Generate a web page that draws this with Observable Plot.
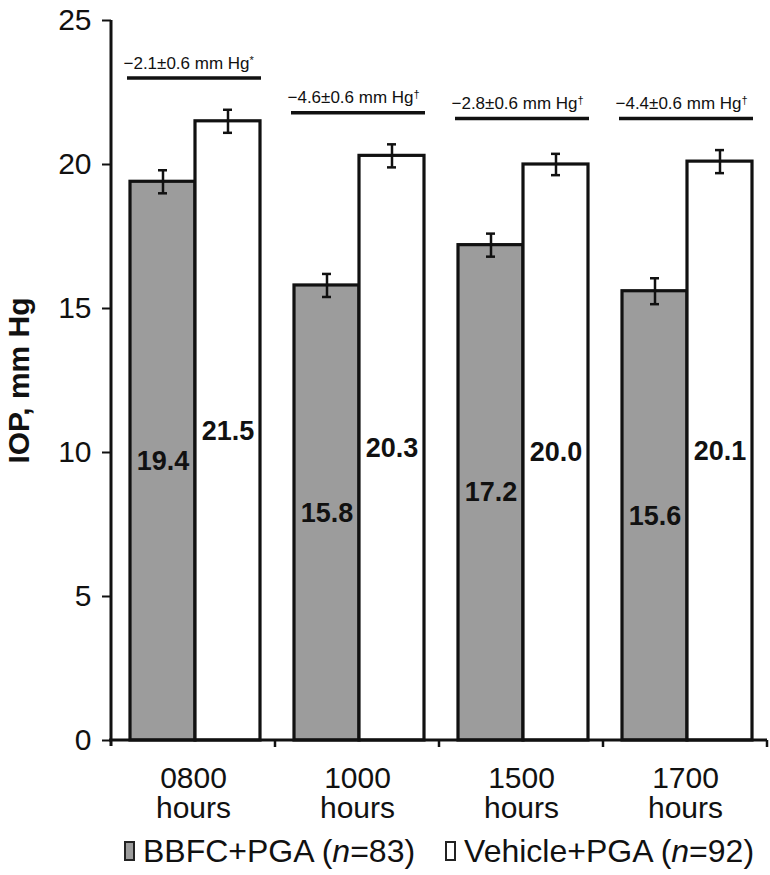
<!DOCTYPE html>
<html>
<head>
<meta charset="utf-8">
<script src="https://cdn.jsdelivr.net/npm/d3@7"></script>
<script src="https://cdn.jsdelivr.net/npm/@observablehq/plot@0.6"></script>
<style>
  body { margin: 0; background: #fff; font-family: "Liberation Sans", Arial, Helvetica, sans-serif; }
  #legend { display: flex; justify-content: center; align-items: center; gap: 30px;
            padding-left: 111px; padding-right: 3px; width: 656px; height: 42px;
            font-size: 32px; color: #111; }
  #legend .item { display: flex; align-items: center; white-space: nowrap; }
  #legend .sw { display: inline-block; width: 7px; height: 16px; border: 2px solid #222; margin-right: 8px; }
</style>
</head>
<body>
<div id="chart"></div>
<div id="legend"></div>
<script>
// ---- data ----
const times = ["0800\nhours", "1000\nhours", "1500\nhours", "1700\nhours"];
const groups = ["BBFC+PGA", "Vehicle+PGA"];
const groupN = [83, 92];
const groupColors = ["#9c9c9c", "#ffffff"];
const bbfcMean = [19.4, 15.8, 17.2, 15.6];
const bbfcSE = [0.4, 0.4, 0.4, 0.45];
const vehicleMean = [21.5, 20.3, 20.0, 20.1];
const vehicleSE = [0.4, 0.4, 0.37, 0.4];
const diffText = ["\u22122.1\u00b10.6 mm Hg", "\u22124.6\u00b10.6 mm Hg", "\u22122.8\u00b10.6 mm Hg", "\u22124.4\u00b10.6 mm Hg"];
const diffMark = ["*", "\u2020", "\u2020", "\u2020"];
const bracketY = [23.0, 21.8, 21.6, 21.6];
const yTicks = [0, 5, 10, 15, 20, 25];

// ---- tables ----
const rows = [];
times.forEach((t, i) => {
  rows.push({time: t, group: groups[0], mean: bbfcMean[i], se: bbfcSE[i]});
  rows.push({time: t, group: groups[1], mean: vehicleMean[i], se: vehicleSE[i]});
});
const diffs = times.map((t, i) => ({time: t, label: diffText[i] + "|" + diffMark[i], level: bracketY[i]}));

const plot = Plot.plot({
  width: 770,
  height: 830,
  marginLeft: 111,
  marginRight: 3,
  marginTop: 20,
  marginBottom: 90,
  style: {fontFamily: '"Liberation Sans", Arial, Helvetica, sans-serif', fontSize: "30px", background: "white", color: "#111"},
  fx: {domain: times, padding: 0, label: null, tickSize: 0, tickPadding: 26},
  x: {domain: groups, paddingInner: 0, paddingOuter: 0.252, align: 0.545, axis: null},
  y: {domain: [0, 25], ticks: yTicks, tickSize: 9, tickPadding: 11, label: "IOP, mm Hg", labelAnchor: "center", labelOffset: 104, labelArrow: "none"},
  color: {domain: groups, range: groupColors},
  marks: [
    Plot.barY(rows, {fx: "time", x: "group", y: "mean", fill: "group", stroke: "#111", strokeWidth: 3.2}),
    Plot.ruleX(rows, {fx: "time", x: "group", y1: d => d.mean - d.se, y2: d => d.mean + d.se, stroke: "#111", strokeWidth: 2.5}),
    Plot.tickY(rows, {fx: "time", x: "group", y: d => d.mean - d.se, inset: 28, stroke: "#111", strokeWidth: 2.5}),
    Plot.tickY(rows, {fx: "time", x: "group", y: d => d.mean + d.se, inset: 28, stroke: "#111", strokeWidth: 2.5}),
    Plot.text(rows, {fx: "time", x: "group", y: d => d.mean / 2, text: d => d.mean.toFixed(1), fontSize: 27, fontWeight: "bold", fill: "#111"}),
    Plot.ruleY(diffs, {fx: "time", y: "level", insetLeft: 16, insetRight: 14, stroke: "#111", strokeWidth: 3.5}),
    Plot.text(diffs, {fx: "time", y: "level", text: "label", frameAnchor: "left", textAnchor: "start", lineAnchor: "middle", dx: 12, dy: -15, fontSize: 17, fill: "#111"})
  ]
});

const svg = d3.select(plot);
svg.selectAll('g[aria-label="y-axis label"] text').attr("font-weight", "bold");
svg.selectAll('g[aria-label="y-axis label"]').attr("font-weight", "bold");
svg.selectAll('g[aria-label="y-axis tick"]').attr("stroke-width", 2);

// superscript markers on difference labels
svg.selectAll("text").filter(function () { return this.textContent.includes("|"); }).each(function () {
  const [main, mark] = this.textContent.split("|");
  const t = d3.select(this);
  t.text(main);
  t.append("tspan").attr("dy", "-0.45em").attr("font-size", "0.65em").text(mark);
});

// axis lines and category boundary ticks, placed from the plot's own scales
const fxs = plot.scale("fx");
const ys = plot.scale("y");
const y0 = ys.apply(0), yTop = ys.apply(25);
const starts = times.map(t => fxs.apply(t));
const edges = starts.concat([starts[starts.length - 1] + fxs.bandwidth]);
const g = svg.append("g").attr("stroke", "#111").attr("stroke-width", 3).attr("fill", "none");
g.append("line").attr("x1", edges[0]).attr("x2", edges[0]).attr("y1", yTop).attr("y2", y0 + 6);
g.append("line").attr("x1", edges[0] - 2).attr("x2", edges[edges.length - 1]).attr("y1", y0).attr("y2", y0);
g.selectAll("line.edge").data(edges.slice(1)).join("line").attr("class", "edge")
  .attr("x1", d => d).attr("x2", d => d).attr("y1", y0).attr("y2", y0 + 7).attr("stroke-width", 2.5);

document.getElementById("chart").append(plot);

// legend
const legend = d3.select("#legend");
groups.forEach((name, i) => {
  const item = legend.append("div").attr("class", "item");
  item.append("span").attr("class", "sw").style("background", groupColors[i]);
  item.append("span").html(`${name} (<i>n</i>=${groupN[i]})`);
});
</script>
</body>
</html>
